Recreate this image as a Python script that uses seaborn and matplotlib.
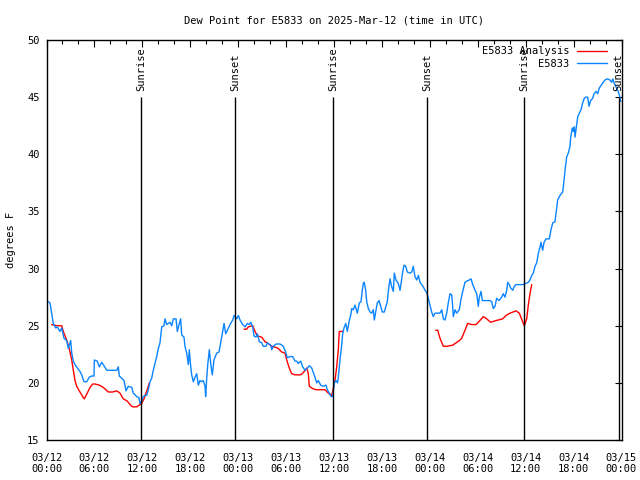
import numpy as np
import pandas as pd
import matplotlib
matplotlib.use("Agg")
import matplotlib.pyplot as plt
from matplotlib.lines import Line2D
from matplotlib.ticker import MultipleLocator
import seaborn as sns

# hours since 2025-03-12 00:00 UTC
obs_hours = [0.23, 0.44, 0.65, 0.85, 1.15, 1.35, 1.69, 1.90, 2.19, 2.53, 2.73, 3.03, 3.16, 3.36, 3.57, 3.86,
             4.19, 4.41, 4.70, 5.03, 5.36, 5.66, 5.95, 5.99, 6.36, 6.61, 6.91, 7.20, 7.54, 8.79, 8.99, 9.12,
             9.42, 9.71, 9.96, 10.24, 10.67, 10.87, 11.29, 11.58, 11.71, 11.92, 12.12, 12.33, 12.55, 12.75,
             12.96, 13.17, 13.37, 13.59, 13.80, 14.00, 14.21, 14.43, 14.71, 14.84, 15.05, 15.25, 15.46, 15.68,
             15.88, 16.22, 16.38, 16.63, 16.80, 16.93, 17.22, 17.34, 17.56, 17.76, 17.88, 18.06, 18.18, 18.38,
             18.60, 18.81, 19.01, 19.22, 19.43, 19.63, 19.85, 19.93, 20.06, 20.19, 20.39, 20.56, 20.76, 20.97,
             21.31, 21.60, 21.81, 22.01, 22.23, 22.44, 22.64, 22.98, 23.32, 23.48, 23.82, 24.02, 24.23, 24.57,
             24.86, 25.14, 25.39, 25.57, 25.82, 25.98, 26.23, 26.40, 26.65, 26.95, 27.15, 27.49, 27.65, 28.07,
             28.20, 28.40, 28.74, 29.24, 29.65, 29.99, 30.15, 30.49, 30.83, 31.12, 31.33, 31.53, 31.83, 32.08,
             32.37, 32.66, 32.91, 33.21, 33.41, 33.62, 33.83, 34.03, 34.34, 34.66, 35.00, 35.16, 35.41, 35.63,
             35.84, 36.04, 36.25, 36.44, 36.54, 36.75, 36.96, 37.09, 37.25, 37.47, 37.67, 37.92, 38.09, 38.22,
             38.42, 38.63, 38.76, 38.92, 39.17, 39.38, 39.54, 39.67, 39.79, 39.97, 40.10, 40.30, 40.51, 40.72,
             40.92, 41.05, 41.22, 41.42, 41.64, 41.85, 42.05, 42.30, 42.51, 42.67, 42.80, 43.01, 43.23, 43.43,
             43.55, 43.76, 44.05, 44.27, 44.39, 44.60, 44.77, 44.98, 45.18, 45.52, 45.73, 45.93, 46.14, 46.36,
             46.56, 46.77, 46.98, 47.18, 47.40, 47.61, 47.81, 48.02, 48.23, 48.43, 48.65, 48.86, 49.27, 49.49,
             49.69, 49.90, 50.11, 50.31, 50.53, 50.74, 50.86, 50.94, 51.15, 51.36, 51.69, 51.87, 52.12, 52.40,
             52.62, 52.94, 53.16, 53.37, 53.66, 53.87, 54.07, 54.20, 54.41, 54.57, 54.78, 55.53, 55.75, 55.95,
             56.16, 56.37, 56.66, 57.00, 57.20, 57.41, 57.63, 57.75, 57.95, 58.13, 58.38, 58.54, 58.79, 59.70,
             60.04, 60.33, 60.54, 60.76, 60.96, 61.17, 61.38, 61.58, 61.80, 61.92, 62.13, 62.30, 62.55, 62.96,
             63.17, 63.39, 63.67, 63.80, 64.01, 64.30, 64.64, 64.80, 64.93, 65.14, 65.34, 65.55, 65.64, 65.84,
             65.97, 66.09, 66.18, 66.39, 66.52, 66.72, 66.93, 67.14, 67.34, 67.56, 67.77, 67.93, 68.14, 68.39,
             68.56, 68.81, 69.02, 69.22, 69.52, 69.72, 69.94, 70.22, 70.56, 70.77, 70.90, 71.10, 71.31, 71.52,
             71.73, 71.90]
obs_dewpt = [27.1, 27.0, 26.1, 25.2, 24.8, 24.9, 24.5, 24.8, 23.9, 23.7, 23.0, 23.7, 22.6, 21.9, 21.6, 21.3,
             21.0, 20.7, 20.1, 20.1, 20.5, 20.6, 20.6, 22.0, 21.9, 21.4, 21.8, 21.5, 21.1, 21.1, 21.4, 20.6,
             20.4, 20.2, 19.3, 19.7, 19.6, 19.1, 18.8, 18.7, 18.2, 18.4, 18.8, 18.9, 18.9, 19.4,
             20.1, 20.4, 21.1, 21.7, 22.3, 23.0, 23.5, 24.9, 25.0, 25.6, 25.1, 25.2, 25.3, 25.0,
             25.6, 25.6, 24.5, 25.2, 25.6, 24.2, 24.0, 23.2, 22.6, 21.6, 22.9, 21.4, 20.7, 20.1,
             20.5, 20.8, 19.8, 20.2, 20.1, 20.2, 19.7, 18.8, 20.4, 21.6, 22.9, 21.7, 20.7, 22.0,
             22.6, 22.7, 23.5, 24.3, 25.2, 24.3, 24.6, 25.1, 25.5, 25.9, 25.6, 25.9, 25.5, 25.1,
             24.9, 25.2, 25.1, 25.3, 24.9, 24.1, 24.0, 24.3, 23.6, 23.5, 23.2, 23.2, 23.5, 23.3,
             22.9, 23.2, 23.4, 23.4, 23.2, 22.6, 22.2, 22.3, 22.3, 21.9, 21.9, 21.7, 21.9, 21.4,
             21.1, 21.3, 21.5, 21.3, 20.9, 20.5, 20.0, 20.2, 19.8, 19.7, 19.8, 19.4, 19.1, 18.8,
             18.8, 20.0, 20.2, 20.0, 20.5, 22.0, 23.3, 24.3, 24.8, 25.2, 24.5, 25.5, 25.9, 26.5,
             26.4, 26.8, 26.5, 26.1, 27.0, 27.1, 28.1, 28.7, 28.8, 28.1, 27.1, 26.5, 26.2, 26.1,
             26.4, 25.5, 26.2, 27.0, 27.2, 26.7, 26.2, 26.2, 26.7, 27.1, 28.0, 29.1, 28.4, 28.0,
             29.6, 29.0, 28.7, 28.1, 28.7, 29.7, 30.3, 30.2, 29.7, 29.6, 29.7, 30.2, 29.3, 29.0,
             29.4, 28.8, 28.6, 28.4, 28.1, 27.9, 27.4, 26.8, 26.2, 25.8, 26.1, 26.1, 26.1, 26.4,
             25.6, 25.5, 26.1, 27.0, 27.8, 27.7, 26.7, 25.8, 26.4, 26.1, 26.4, 27.2, 28.0, 28.8,
             28.9, 29.0, 29.1, 28.6, 28.1, 27.8, 26.7, 27.5, 28.0, 27.2, 27.2, 27.2, 27.1, 26.5,
             26.7, 27.4, 27.2, 27.5, 27.8, 27.5, 28.1, 28.8, 28.6, 28.3, 28.1, 28.4, 28.6, 28.6,
             28.7, 28.8, 29.0, 29.4, 29.6, 30.2, 30.5, 31.3, 31.9, 32.3, 31.6, 32.3, 32.6, 32.6,
             33.4, 34.0, 34.1, 34.8, 36.0, 36.4, 36.7, 37.7, 38.6, 39.8, 40.1, 40.7, 41.5, 42.3,
             42.0, 42.4, 41.5, 42.6, 43.3, 43.6, 43.9, 44.5, 44.9, 45.0, 45.0, 44.2, 44.7, 44.9,
             45.3, 45.5, 45.3, 45.8, 46.1, 46.3, 46.5, 46.6, 46.5, 46.3, 46.6, 46.2, 45.9, 45.6,
             45.2, 44.6]

# analysis series, three separate stretches
ana_hours = [
    [0.65, 1.28, 1.90, 2.10, 2.44, 2.73, 2.94, 3.16, 3.36, 3.57, 3.78, 4.19, 4.53, 4.73, 5.03, 5.45, 5.79,
     6.07, 6.61, 7.11, 7.74, 8.29, 8.79, 9.20, 9.62, 10.12, 10.46, 10.79, 11.29, 11.71, 11.92, 12.21, 12.46,
     12.75, 12.87],
    [24.73, 25.07, 25.27, 25.82, 26.11, 26.40, 26.95, 27.36, 27.65, 28.20, 28.74, 29.03, 29.45, 29.87, 30.08,
     30.40, 30.70, 31.12, 31.83, 32.16, 32.58, 32.78, 32.91, 33.33, 33.75, 34.87, 35.29, 35.71, 35.91, 36.12,
     36.34, 36.54, 36.66, 37.09],
    [48.74, 48.99, 49.27, 49.69, 50.11, 50.86, 51.28, 51.69, 51.99, 52.40, 52.74, 53.24, 53.78, 54.20, 54.70,
     55.12, 55.62, 56.04, 56.57, 57.12, 57.54, 58.04, 58.79, 59.20, 59.83, 60.13, 60.33, 60.54, 60.76],
]
ana_dewpt = [
    [25.1, 25.0, 25.0, 24.5, 23.9, 23.3, 22.7, 22.0, 21.1, 20.2, 19.7, 19.2, 18.8, 18.6, 19.0, 19.6, 19.9,
     19.9, 19.8, 19.6, 19.2, 19.2, 19.3, 19.1, 18.6, 18.4, 18.1, 17.9, 17.9, 18.1, 18.2, 18.6, 19.1,
     19.7, 20.0],
    [24.7, 24.7, 24.9, 25.0, 24.5, 24.1, 24.0, 23.6, 23.5, 23.2, 23.1, 23.0, 22.7, 22.6, 22.0,
     21.3, 20.8, 20.7, 20.7, 20.9, 21.3, 20.8, 19.7, 19.5, 19.4, 19.4, 19.1, 18.9, 19.5, 20.2,
     21.4, 22.9, 24.5, 24.5],
    [24.6, 24.6, 23.9, 23.2, 23.2, 23.3, 23.5, 23.7, 23.9, 24.6, 25.2, 25.1, 25.1, 25.4, 25.8,
     25.6, 25.3, 25.4, 25.5, 25.6, 25.9, 26.1, 26.3, 26.1, 25.0, 25.6, 26.8, 27.8, 28.6],
]

event_names = ["Sunrise", "Sunset", "Sunrise", "Sunset", "Sunrise", "Sunset"]
event_hours = [11.82, 23.62, 35.85, 47.63, 59.85, 71.65]

tick_hours = [0, 6, 12, 18, 24, 30, 36, 42, 48, 54, 60, 66, 72]
tick_labels = ["03/12\n00:00", "03/12\n06:00", "03/12\n12:00", "03/12\n18:00",
               "03/13\n00:00", "03/13\n06:00", "03/13\n12:00", "03/13\n18:00",
               "03/14\n00:00", "03/14\n06:00", "03/14\n12:00", "03/14\n18:00",
               "03/15\n00:00"]

sns.set_theme(style="white")
plt.rcParams["font.family"] = ["DejaVu Sans Mono"]
plt.rcParams.update({"text.color": "black", "axes.labelcolor": "black",
                     "xtick.color": "black", "ytick.color": "black"})
fs = 7.5

obs = pd.DataFrame({"hour": obs_hours, "dewpt": obs_dewpt})
ana = pd.concat([pd.DataFrame({"hour": h, "dewpt": v, "seg": i})
                 for i, (h, v) in enumerate(zip(ana_hours, ana_dewpt))])

fig = plt.figure(figsize=(6.4, 4.8), dpi=100)
ax = fig.add_axes([46.5 / 640, 40 / 480, 575 / 640, 400 / 480])

red = "#ff0000"
blue = "#0a84ff"

sns.lineplot(data=ana, x="hour", y="dewpt", units="seg", estimator=None,
             color=red, linewidth=1.0, ax=ax)
sns.lineplot(data=obs, x="hour", y="dewpt", color=blue, linewidth=1.0, ax=ax)

ax.vlines(event_hours, 15, 45, color="black", linewidth=1.0)
for name, h in zip(event_names, event_hours):
    ax.text(h, 45.5, name, rotation=90, ha="center", va="bottom", fontsize=fs)

ax.set_xlim(0, 72)
ax.set_ylim(15, 50)
ax.set_xticks(tick_hours)
ax.set_xticklabels(tick_labels, fontsize=fs)
ax.xaxis.set_minor_locator(MultipleLocator(2))
ax.set_yticks(range(15, 51, 5))
ax.tick_params(axis="y", labelsize=fs)
ax.tick_params(which="major", direction="in", length=5, width=0.8,
               top=True, right=True, pad=5, color="black")
ax.tick_params(which="minor", direction="in", length=3, width=0.8,
               top=True, right=True, color="black")
ax.tick_params(axis="x", pad=9)

for s in ax.spines.values():
    s.set_color("black")
    s.set_linewidth(1.0)

ax.set_xlabel("")
ax.set_ylabel("degrees F", fontsize=fs, labelpad=8)
ax.set_title("Dew Point for E5833 on 2025-Mar-12 (time in UTC)", fontsize=fs, pad=12)

handles = [Line2D([], [], color=red, linewidth=1.0), Line2D([], [], color=blue, linewidth=1.0)]
ax.legend(handles, ["E5833 Analysis", "E5833"], loc="upper right", frameon=False,
          markerfirst=False, fontsize=fs, handlelength=2.8, borderaxespad=0.2,
          labelspacing=0.25, bbox_to_anchor=(0.985, 1.0))

fig.savefig("out.png", dpi=100)
